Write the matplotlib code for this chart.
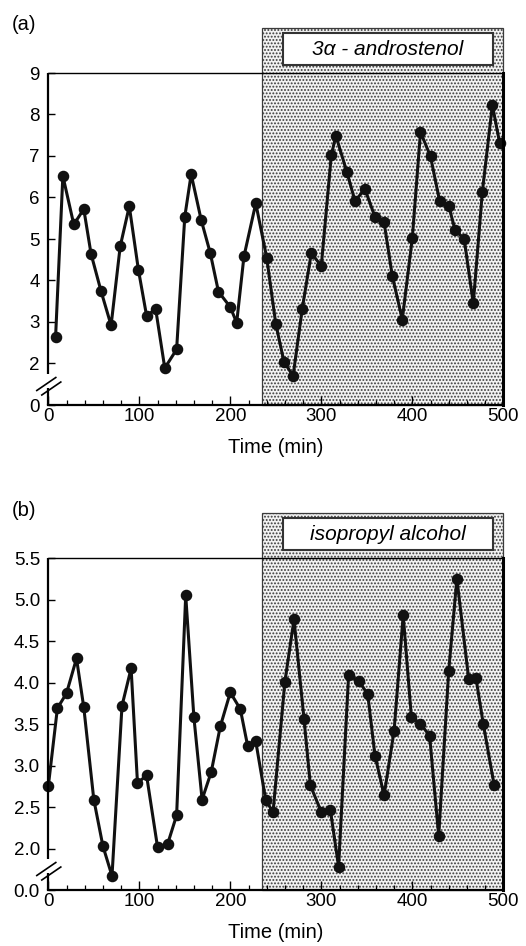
import matplotlib
matplotlib.use("Agg")
import matplotlib.pyplot as plt
from matplotlib.patches import Rectangle
import matplotlib.transforms as mtransforms

plt.rcParams['font.family'] = ['Liberation Sans', 'DejaVu Sans']
plt.rcParams['hatch.linewidth'] = 0.9

# ---------------- data ----------------
time_a = [8, 16, 28, 39, 47, 58, 69, 79, 89, 99, 108, 118, 128, 141, 150, 157, 168, 178, 187, 200,
          207, 215, 228, 240, 250, 259, 269, 279, 289, 300, 311, 316, 328, 337, 348, 359, 369, 378,
          389, 400, 409, 420, 430, 440, 447, 457, 467, 477, 488, 496]
value_a = [2.64, 6.52, 5.35, 5.72, 4.64, 3.74, 2.92, 4.82, 5.79, 4.26, 3.15, 3.31, 1.89, 2.34, 5.54,
           6.56, 5.46, 4.66, 3.73, 3.36, 2.98, 4.58, 5.86, 4.55, 2.95, 2.04, 1.70, 3.31, 4.66, 4.35,
           7.02, 7.49, 6.62, 5.92, 6.20, 5.53, 5.40, 4.11, 3.06, 5.02, 7.58, 6.99, 5.92, 5.80, 5.22,
           5.00, 3.45, 6.14, 8.23, 7.31]

time_b = [0, 10, 20, 31, 39, 50, 60, 70, 81, 91, 98, 108, 120, 131, 141, 151, 160, 169, 179, 189,
          200, 211, 219, 228, 239, 247, 260, 270, 281, 288, 300, 310, 319, 330, 341, 351, 359, 369,
          380, 390, 399, 409, 419, 429, 440, 449, 462, 470, 478, 490]
value_b = [2.75, 3.69, 3.87, 4.29, 3.70, 2.59, 2.03, 1.67, 3.72, 4.17, 2.79, 2.88, 2.02, 2.05, 2.40,
           5.05, 3.58, 2.59, 2.92, 3.47, 3.88, 3.68, 3.24, 3.29, 2.58, 2.44, 4.01, 4.76, 3.56, 2.76,
           2.44, 2.46, 1.78, 4.09, 4.02, 3.86, 3.12, 2.64, 3.42, 4.81, 3.58, 3.50, 3.36, 2.15, 4.14,
           5.25, 4.04, 4.05, 3.50, 2.76]

odor_start = 235
odor_end = 500
odor_a = "3\u03b1 - androstenol"
odor_b = "isopropyl alcohol"

yticks_a = [1, 2, 3, 4, 5, 6, 7, 8, 9]
yticklabels_a = ["0", "2", "3", "4", "5", "6", "7", "8", "9"]
ylim_a = (1, 9)

yticks_b = [1.5, 2.0, 2.5, 3.0, 3.5, 4.0, 4.5, 5.0, 5.5]
yticklabels_b = ["0.0", "2.0", "2.5", "3.0", "3.5", "4.0", "4.5", "5.0", "5.5"]
ylim_b = (1.5, 5.5)

xticks = [0, 100, 200, 300, 400, 500]
panel_labels = ["(a)", "(b)"]

# ---------------- figure ----------------
W, H = 526, 946
fig = plt.figure(figsize=(W / 100, H / 100), dpi=100)

ax_left = 48.3 / W
ax_w = (503.3 - 48.3) / W
ax_h = 332 / H
axes_bottoms = [(H - 405) / H, (H - 890) / H]


def draw_panel(ax, t, v, yticks, yticklabels, ylim, odor, plabel):
    ax.set_xlim(0, 500)
    ax.set_ylim(*ylim)
    trans = mtransforms.blended_transform_factory(ax.transData, ax.transAxes)
    # shaded stimulus period
    rect = Rectangle((odor_start, 0), odor_end - odor_start, 1.135, transform=trans,
                     facecolor='#f2f2f2', edgecolor='#3a3a3a', hatch='.....', linewidth=0.9,
                     clip_on=False, zorder=0)
    ax.add_patch(rect)
    # label box
    bx0 = 0.515
    bx1 = 0.978
    box = Rectangle((bx0, 1.024), bx1 - bx0, 0.096, transform=ax.transAxes,
                    facecolor='white', edgecolor='#333333', linewidth=1.5,
                    clip_on=False, zorder=3)
    ax.add_patch(box)
    ax.text((bx0 + bx1) / 2, 1.072, odor, transform=ax.transAxes, ha='center', va='center',
            fontsize=15, style='italic', zorder=4)

    ax.plot(t, v, color='#111111', linewidth=2.2, marker='o', markersize=7.3,
            markerfacecolor='#111111', markeredgecolor='#111111', clip_on=False, zorder=5)

    ax.set_yticks(yticks)
    ax.set_yticklabels(yticklabels)
    ax.set_xticks(xticks)
    ax.set_xticks(list(range(0, 501, 20)), minor=True)
    ax.tick_params(axis='x', which='major', direction='in', length=6.5, width=1.0,
                   labelsize=13.5, pad=2.5)
    ax.tick_params(axis='x', which='minor', direction='in', length=3.5, width=0.9)
    ax.tick_params(axis='y', which='major', direction='in', length=5, width=1.0,
                   labelsize=13.5, pad=6)
    ax.set_xlabel("Time (min)", fontsize=14.5, labelpad=9)

    ax.spines['top'].set_linewidth(1.0)
    ax.spines['bottom'].set_linewidth(1.6)
    ax.spines['right'].set_linewidth(2.2)
    ax.spines['left'].set_visible(False)
    for s in ax.spines.values():
        s.set_zorder(6)
    # left spine with a break
    ax.plot([0, 0], [0.093, 1.0], transform=ax.transAxes, color='black', linewidth=1.6,
            clip_on=False, zorder=6, solid_capstyle='butt')
    ax.plot([0, 0], [0.0, 0.051], transform=ax.transAxes, color='black', linewidth=1.6,
            clip_on=False, zorder=6, solid_capstyle='butt')
    aw, ah = 455.0, 332.0
    for cx, cy in [(-2.0, 21.0), (3.0, 16.5)]:
        ax.plot([(cx - 9.5) / aw, (cx + 9.5) / aw], [(cy - 6.5) / ah, (cy + 6.5) / ah],
                transform=ax.transAxes, color='black', linewidth=1.2, clip_on=False, zorder=7)

    ax.text(-36.5 / aw, 1.0 + 48 / ah, plabel, transform=ax.transAxes, ha='left',
            va='center', fontsize=14.5)


ax_a = fig.add_axes([ax_left, axes_bottoms[0], ax_w, ax_h])
draw_panel(ax_a, time_a, value_a, yticks_a, yticklabels_a, ylim_a, odor_a, panel_labels[0])
ax_b = fig.add_axes([ax_left, axes_bottoms[1], ax_w, ax_h])
draw_panel(ax_b, time_b, value_b, yticks_b, yticklabels_b, ylim_b, odor_b, panel_labels[1])

fig.savefig("out.png", dpi=100)
